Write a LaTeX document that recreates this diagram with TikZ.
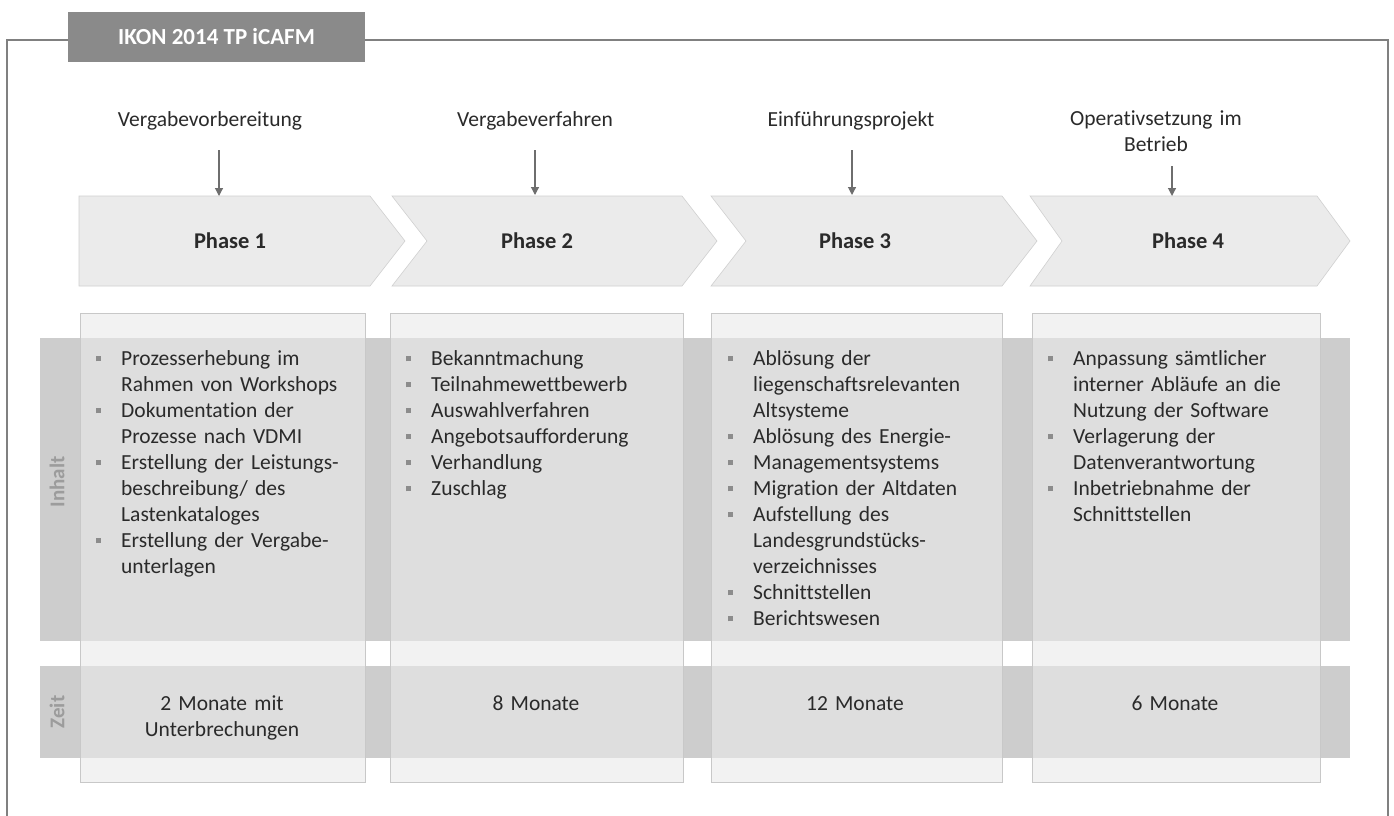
\documentclass[tikz,border=0pt]{standalone}
\usepackage{fontspec}
\setmainfont{Carlito}[Ligatures=NoCommon]
\usetikzlibrary{arrows.meta}
\definecolor{framegray}{HTML}{808080}
\definecolor{tabgray}{HTML}{8A8A8A}
\definecolor{bandgray}{HTML}{CDCDCD}
\definecolor{colfill}{HTML}{EAEAEA}
\definecolor{coledge}{HTML}{C8C8C8}
\definecolor{chevfill}{HTML}{EBEBEB}
\definecolor{chevedge}{HTML}{D0D0D0}
\definecolor{arrowgray}{HTML}{6E6E6E}
\definecolor{textdark}{HTML}{2A2A2A}
\definecolor{rowlabel}{HTML}{9C9C9C}
\definecolor{bulletgray}{HTML}{8C8C8C}
% bullet item with hanging indent; each item closes its own paragraph
\newcommand\bulletmark{\makebox[25pt][l]{\raisebox{3.6pt}{\color{bulletgray}\rule{5pt}{5pt}}}}
\newcommand\itm[1]{\hangindent=25pt\hangafter=1\noindent\bulletmark#1\par}
\begin{document}
\begin{tikzpicture}[x=1pt,y=-1pt,
  frameline/.style={draw=framegray,line width=1.5pt},
  titletab/.style={fill=tabgray,text=white,font=\fontsize{23}{27}\selectfont\bfseries,minimum width=297pt,minimum height=50pt,inner sep=0pt},
  band/.style={fill=bandgray},
  column/.style={fill=colfill,fill opacity=0.6,draw=coledge,line width=0.6pt},
  chev/.style={fill=chevfill,draw=chevedge,line width=0.6pt},
  phaselabel/.style={font=\fontsize{22.5}{27}\selectfont\bfseries,text=textdark,inner sep=0pt},
  toplabel/.style={font=\fontsize{21.5}{26}\selectfont,text=textdark,align=center,text width=230pt,inner sep=0pt,anchor=base},
  listtext/.style={font=\fontsize{21.5}{26}\selectfont,text=textdark,text width=285pt,inner sep=0pt,anchor=base west,execute at begin node={\raggedright\parindent=0pt}},
  timetext/.style={font=\fontsize{21.5}{26}\selectfont,text=textdark,text width=260pt,align=center,inner sep=0pt,anchor=base},
  rowtitle/.style={font=\fontsize{21}{25}\selectfont\bfseries,text=rowlabel,rotate=90,inner sep=0pt},
  pointer/.style={draw=arrowgray,line width=1.2pt,-{Triangle[length=8pt,width=8pt]}}]
\useasboundingbox (0,0) rectangle (1394,816);
\fill[white] (0,0) rectangle (1394,816);

% title tab and surrounding frame
\node[titletab] (title) at (216.5,37) {IKON 2014 TP iCAFM};
\draw[frameline] (title.west |- 0,40) -- (7,40) -- (7,816);
\draw[frameline] (title.east |- 0,40) -- (1388,40) -- (1388,816);

% horizontal bands for the two rows
\fill[band] (40,338) rectangle (1350,641);
\fill[band] (40,666) rectangle (1350,758);

% phase columns
\draw[column] (80,313) rectangle (365,782);
\draw[column] (390,313) rectangle (683,782);
\draw[column] (711,313) rectangle (1002,782);
\draw[column] (1032,313) rectangle (1320,782);

% row titles
\node[rowtitle] (inhalt) at (57,482) {Inhalt};
\node[rowtitle] (zeit) at (57,712) {Zeit};

% chevrons
\draw[chev] (79,196) -- (370,196) -- (405,241) -- (370,286) -- (79,286) -- cycle;
\draw[chev] (392,196) -- (682,196) -- (717,241) -- (682,286) -- (392,286) -- (427,241) -- cycle;
\draw[chev] (711,196) -- (1002,196) -- (1037,241) -- (1002,286) -- (711,286) -- (746,241) -- cycle;
\draw[chev] (1030,196) -- (1317,196) -- (1350,241) -- (1317,286) -- (1030,286) -- (1062,241) -- cycle;
\node[phaselabel] (ph1) at (230,241) {Phase 1};
\node[phaselabel] (ph2) at (537,241) {Phase 2};
\node[phaselabel] (ph3) at (855,241) {Phase 3};
\node[phaselabel] (ph4) at (1188,241) {Phase 4};

% stage names above the chevrons
\node[toplabel] (st1) at (210,126) {Vergabevorbereitung};
\node[toplabel] (st2) at (535,126) {Vergabeverfahren};
\node[toplabel] (st3) at (851,126) {Einführungsprojekt};
\node[toplabel] (st4) at (1156,125) {Operativsetzung im\\Betrieb};

\coordinate (a1s) at (219,150); \coordinate (a1e) at (219,196);
\coordinate (a2s) at (535,150); \coordinate (a2e) at (535,195);
\coordinate (a3s) at (852,150); \coordinate (a3e) at (852,195);
\coordinate (a4s) at (1172,166); \coordinate (a4e) at (1172,196);
\draw[pointer] (a1s) -- (a1e);
\draw[pointer] (a2s) -- (a2e);
\draw[pointer] (a3s) -- (a3e);
\draw[pointer] (a4s) -- (a4e);

% content lists
\node[listtext] (c1) at (96,365) {%
\itm{Prozesserhebung im\newline Rahmen von Workshops}%
\itm{Dokumentation der\newline Prozesse nach VDMI}%
\itm{Erstellung der Leistungs-\newline beschreibung/ des\newline Lastenkataloges}%
\itm{Erstellung der Vergabe-\newline unterlagen}};
\node[listtext] (c2) at (406,365) {%
\itm{Bekanntmachung}%
\itm{Teilnahmewettbewerb}%
\itm{Auswahlverfahren}%
\itm{Angebotsaufforderung}%
\itm{Verhandlung}%
\itm{Zuschlag}};
\node[listtext] (c3) at (728,365) {%
\itm{Ablösung der\newline liegenschaftsrelevanten\newline Altsysteme}%
\itm{Ablösung des Energie-}%
\itm{Managementsystems}%
\itm{Migration der Altdaten}%
\itm{Aufstellung des\newline Landesgrundstücks-\newline verzeichnisses}%
\itm{Schnittstellen}%
\itm{Berichtswesen}};
\node[listtext] (c4) at (1048,365) {%
\itm{Anpassung sämtlicher\newline interner Abläufe an die\newline Nutzung der Software}%
\itm{Verlagerung der\newline Datenverantwortung}%
\itm{Inbetriebnahme der\newline Schnittstellen}};

% durations
\node[timetext] (z1) at (222,710) {2 Monate mit\\Unterbrechungen};
\node[timetext] (z2) at (536,710) {8 Monate};
\node[timetext] (z3) at (855,710) {12 Monate};
\node[timetext] (z4) at (1175,710) {6 Monate};
\end{tikzpicture}
\end{document}
